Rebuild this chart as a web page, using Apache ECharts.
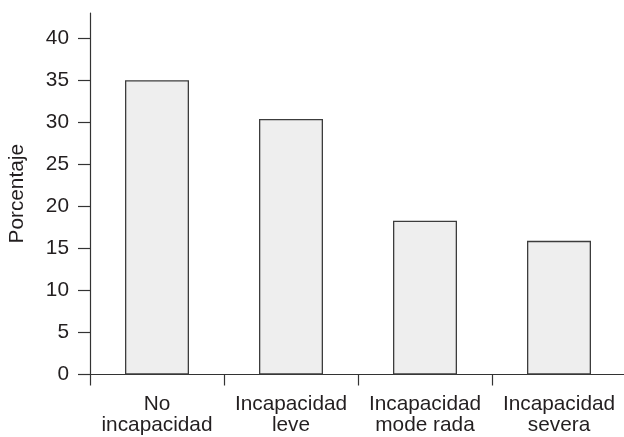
<!DOCTYPE html>
<html>
<head>
<meta charset="utf-8">
<script src="https://cdn.jsdelivr.net/npm/echarts@6/dist/echarts.min.js"></script>
<style>
html,body{margin:0;padding:0;background:#fff;}
#chart{width:624px;height:437px;}
</style>
</head>
<body>
<div id="chart"></div>
<script>
var categories = ['No\nincapacidad', 'Incapacidad\nleve', 'Incapacidad\nmode rada', 'Incapacidad\nsevera'];
var values = [35.0, 30.4, 18.3, 15.9];
var yTicks = [0, 5, 10, 15, 20, 25, 30, 35, 40];
var yAxisName = 'Porcentaje';

var textColor = '#231f20';
var lineColor = '#333333';
var font = 'Liberation Sans, Arial, Helvetica, sans-serif';

var chart = echarts.init(document.getElementById('chart'), null, {renderer: 'canvas'});
chart.setOption({
  animation: false,
  backgroundColor: '#ffffff',
  grid: {left: 90, right: -2, top: 13, bottom: 62.5, containLabel: false, outerBoundsMode: 'none'},
  xAxis: {
    type: 'category',
    data: categories,
    boundaryGap: true,
    axisLine: {show: true, lineStyle: {color: lineColor, width: 1.2}},
    axisTick: {show: true, length: 11, alignWithLabel: false, lineStyle: {color: lineColor, width: 1.2}},
    axisLabel: {
      interval: 0, margin: 19, color: textColor, fontSize: 20.8,
      fontFamily: font, lineHeight: 21.5
    },
    splitLine: {show: false}
  },
  yAxis: {
    type: 'value',
    min: 0, max: 43, interval: 5,
    name: yAxisName,
    nameLocation: 'middle',
    nameRotate: 90,
    nameGap: 62,
    nameTextStyle: {color: textColor, fontSize: 20.8, fontFamily: font},
    axisLine: {show: true, lineStyle: {color: lineColor, width: 1.2}},
    axisTick: {show: true, length: 12, inside: false, customValues: yTicks, lineStyle: {color: lineColor, width: 1.2}},
    axisLabel: {margin: 21, color: textColor, fontSize: 20.8, fontFamily: font, customValues: yTicks},
    splitLine: {show: false}
  },
  series: [{
    type: 'bar',
    data: values,
    barWidth: 64,
    itemStyle: {color: '#eeeeee', borderColor: '#3c3c3c', borderWidth: 1.3}
  }]
});
</script>
</body>
</html>
